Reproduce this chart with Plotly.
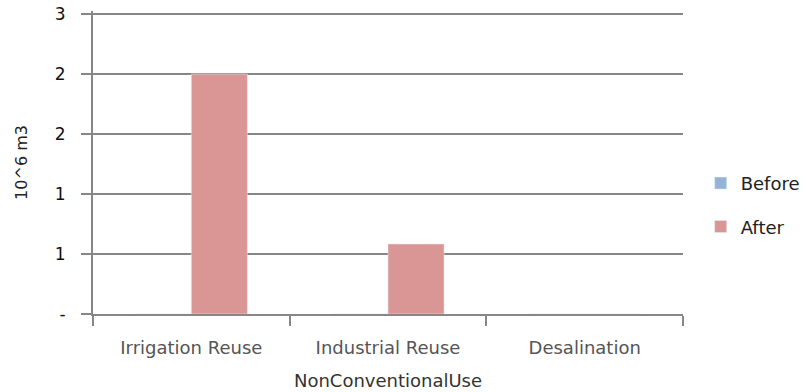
import plotly.graph_objects as go

# Non-conventional water use, 10^6 m3
categories = ["Irrigation Reuse", "Industrial Reuse", "Desalination"]
before_values = [0, 0, 0]
after_values = [2.4, 0.7, 0]

y_tickvals = [0, 0.6, 1.2, 1.8, 2.4, 3.0]
y_ticktext = ["-", "1", "1", "2", "2", "3"]

GRID = "#878787"
FONT = "DejaVu Sans, Verdana, sans-serif"

fig = go.Figure()
fig.add_trace(go.Bar(name="Before", x=categories, y=before_values,
                     marker_color="#95B3D7", legendgroup="b"))
fig.add_trace(go.Bar(name="After", x=categories, y=after_values,
                     marker_color="#D99694", legendgroup="a"))

fig.update_layout(
    width=806, height=392,
    margin=dict(l=93, r=123, t=11, b=78, autoexpand=False),
    paper_bgcolor="white", plot_bgcolor="white",
    barmode="group", bargap=0.43, bargroupgap=0,
    font=dict(family=FONT, size=18, color="#222222"),
    legend=dict(x=1.03, y=0.36, xanchor="left", yanchor="middle",
                font=dict(size=18, color="#222222"), tracegroupgap=17,
                bgcolor="rgba(0,0,0,0)"),
    xaxis=dict(
        title=dict(text="NonConventionalUse", font=dict(size=18, color="#333333"),
                   standoff=18),
        automargin=False,
        showline=True, linecolor=GRID, linewidth=2,
        ticks="outside", tickson="boundaries", ticklen=10, tickcolor=GRID,
        tickwidth=2, tickfont=dict(size=18, color="#555555"),
        ticklabelstandoff=16,
        showgrid=False,
    ),
    yaxis=dict(
        title=dict(text="10^6 m3", font=dict(size=16, color="#222222"),
                   standoff=23),
        automargin=False,
        range=[0, 3.03], tickvals=y_tickvals, ticktext=y_ticktext,
        showline=True, linecolor=GRID, linewidth=2,
        ticks="outside", ticklen=10, tickcolor=GRID, tickwidth=2,
        tickfont=dict(size=17, color="#111111"),
        ticklabelstandoff=12,
        showgrid=True, gridcolor=GRID, gridwidth=2, zeroline=False,
    ),
)

fig.write_html("out.html")
